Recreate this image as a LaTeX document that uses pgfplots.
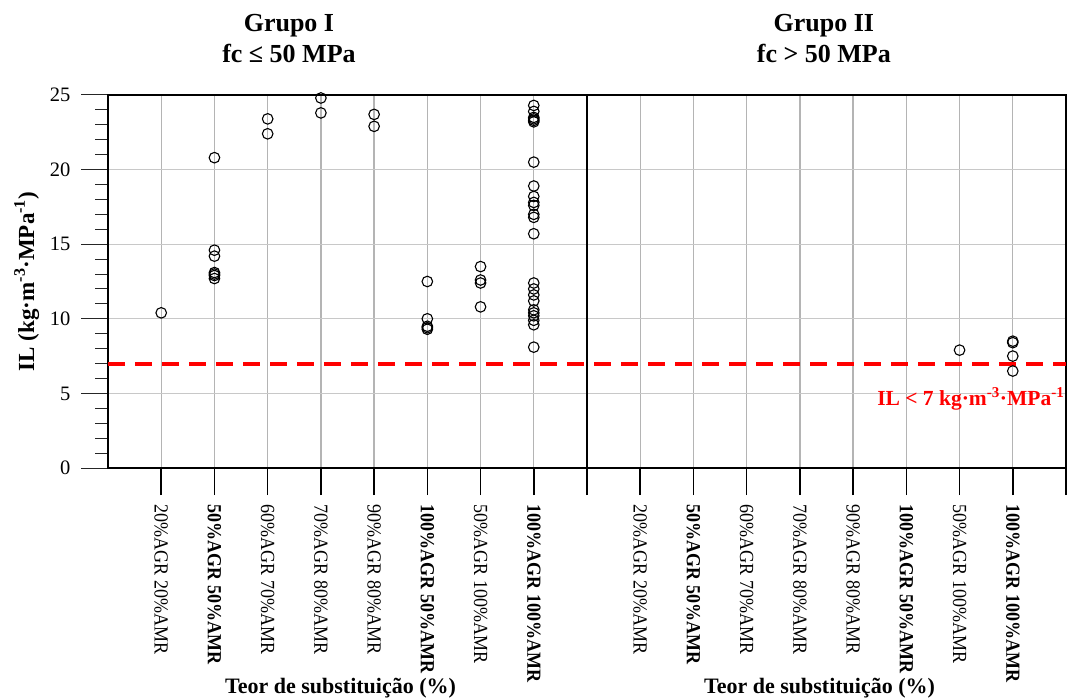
\documentclass[border=0pt]{standalone}
\usepackage{fontspec}
\setmainfont{Liberation Serif}
\newfontfamily\narrowserif[FakeStretch=0.9]{Liberation Serif}
\usepackage{pgfplots}
\pgfplotsset{compat=1.18}

\definecolor{gridv}{HTML}{B4B4B4}
\definecolor{gridh}{HTML}{C8C8C8}

\begin{document}
\begin{tikzpicture}
\begin{axis}[
  scale only axis,
  width=958pt, height=373pt,
  xmin=0, xmax=18, ymin=0, ymax=25,
  clip=false,
  axis line style={black, line width=1.2pt},
  tick pos=left,
  tick align=outside,
  xtick={1,...,18},
  xticklabels={
    20\%AGR 20\%AMR, \textbf{50\%AGR 50\%AMR}, 60\%AGR 70\%AMR, 70\%AGR 80\%AMR,
    90\%AGR 80\%AMR, \textbf{100\%AGR 50\%AMR}, 50\%AGR 100\%AMR, \textbf{100\%AGR 100\%AMR}, ,
    20\%AGR 20\%AMR, \textbf{50\%AGR 50\%AMR}, 60\%AGR 70\%AMR, 70\%AGR 80\%AMR,
    90\%AGR 80\%AMR, \textbf{100\%AGR 50\%AMR}, 50\%AGR 100\%AMR, \textbf{100\%AGR 100\%AMR},
  },
  xticklabel style={font=\narrowserif\fontsize{20}{24}\selectfont, rotate=-90, anchor=west},
  xticklabel shift=6pt,
  ytick={0,5,...,25},
  minor y tick num=4,
  yticklabel style={font=\fontsize{20.5}{24}\selectfont},
  yticklabel shift=7pt,
  /pgf/number format/assume math mode=true,
  major tick length=27pt,
  minor tick length=13pt,
  xtick style={black, line width=1.6pt},
  ytick style={black!85, line width=1pt},
  xmajorgrids, ymajorgrids,
  major x grid style={gridv, line width=1.3pt},
  major y grid style={gridh, line width=1pt},
  ylabel={\textbf{IL (kg·m\textsuperscript{-3}·MPa\textsuperscript{-1})}},
  ylabel style={font=\fontsize{23}{27}\selectfont},
  ylabel shift=4pt,
]

% Grupo I (fc <= 50 MPa)
\addplot[only marks, mark=o, mark size=5.3pt, mark options={black, line width=1.1pt}]
coordinates {
  (1,10.4)
  (2,20.8) (2,14.6) (2,14.2) (2,13.1) (2,13.0) (2,12.9) (2,12.7)
  (3,23.4) (3,22.4)
  (4,24.8) (4,23.8)
  (5,23.7) (5,22.9)
  (6,12.5) (6,10.0) (6,9.5) (6,9.4) (6,9.3)
  (7,13.5) (7,12.6) (7,12.4) (7,10.8)
  (8,24.3) (8,23.9) (8,23.5) (8,23.4) (8,23.3) (8,23.2) (8,20.5)
  (8,18.9) (8,18.2) (8,17.8) (8,17.6) (8,17.0) (8,16.8) (8,15.7)
  (8,12.4) (8,12.0) (8,11.6) (8,11.2) (8,10.6) (8,10.4) (8,10.2)
  (8,9.9) (8,9.6) (8,8.1)
};

% Grupo II (fc > 50 MPa)
\addplot[only marks, mark=o, mark size=5.3pt, mark options={black, line width=1.1pt}]
coordinates {
  (16,7.9)
  (17,8.5) (17,8.4) (17,7.5) (17,6.5)
};

% limit IL = 7
\addplot[red, line width=4pt, dash pattern=on 17pt off 10pt] coordinates {(0,7) (18,7)};

% divider between the two groups
\draw[black, line width=1.2pt] (axis cs:9,0) -- (axis cs:9,25);

\node[anchor=base west, inner sep=0pt, text=red, font=\bfseries\fontsize{21.5}{26}\selectfont]
  at (axis cs:14.45,4.22) {IL < 7 kg·m\textsuperscript{-3}·MPa\textsuperscript{-1}};

\node[anchor=base, inner sep=0pt, font=\bfseries\fontsize{26}{31}\selectfont] at (axis cs:3.40,29.24) {Grupo I};
\node[anchor=base, inner sep=0pt, font=\bfseries\fontsize{26}{31}\selectfont] at (axis cs:3.40,27.16) {fc ≤ 50 MPa};
\node[anchor=base, inner sep=0pt, font=\bfseries\fontsize{26}{31}\selectfont] at (axis cs:13.45,29.24) {Grupo II};
\node[anchor=base, inner sep=0pt, font=\bfseries\fontsize{26}{31}\selectfont] at (axis cs:13.45,27.16) {fc > 50 MPa};

\node[anchor=base, inner sep=0pt, yshift=-225pt, font=\bfseries\fontsize{22}{26}\selectfont] at (axis cs:4.37,0) {Teor de substituição (\%)};
\node[anchor=base, inner sep=0pt, yshift=-225pt, font=\bfseries\fontsize{22}{26}\selectfont] at (axis cs:13.37,0) {Teor de substituição (\%)};

\coordinate (bl) at (rel axis cs:0,0);
\end{axis}
\pgfresetboundingbox
\path[use as bounding box] ([shift={(-108pt,-230pt)}]bl) rectangle ([shift={(959pt,468pt)}]bl);
\end{tikzpicture}
\end{document}
